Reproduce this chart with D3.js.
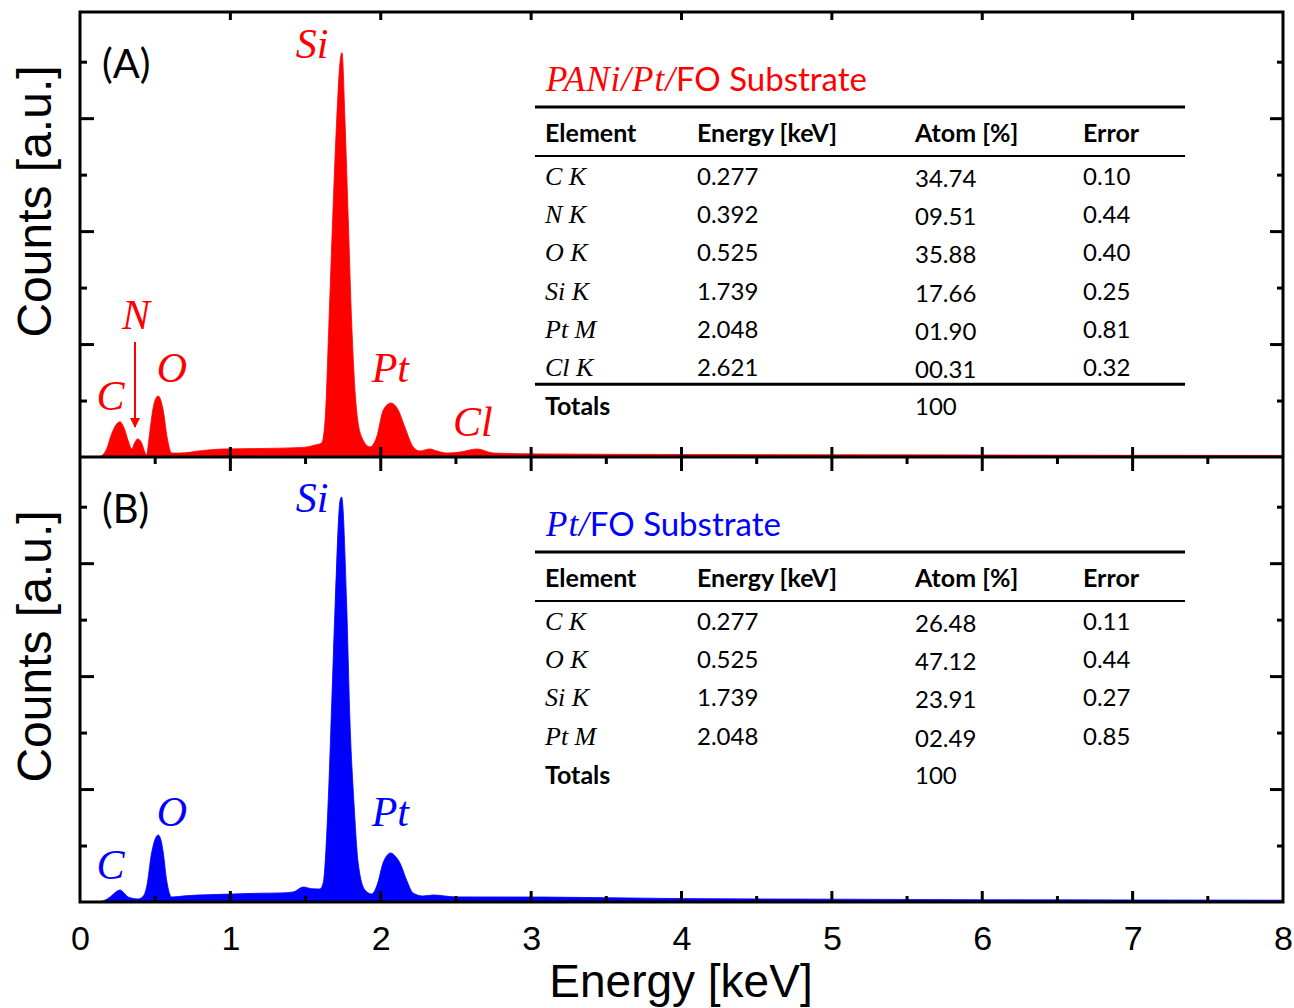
<!DOCTYPE html>
<html>
<head>
<meta charset="utf-8">
<script src="https://cdn.jsdelivr.net/npm/d3@7"></script>
<style>
  body { margin: 0; background: #fff; }
  svg { display: block; }
</style>
</head>
<body>
<div id="chart"></div>
<script>
// spectrum A (PANi/Pt/FO), energy in keV / counts in a.u.
const energyA = [0, 0.10, 0.133, 0.177, 0.21, 0.244, 0.266, 0.293, 0.321, 0.344, 0.365, 0.383, 0.41, 0.432, 0.443, 0.455, 0.465, 0.492, 0.52, 0.538, 0.554, 0.58, 0.61, 0.665, 0.8, 0.95, 1.2, 1.48, 1.56, 1.607, 1.63, 1.656, 1.68, 1.707, 1.733, 1.742, 1.762, 1.784, 1.806, 1.835, 1.873, 1.928, 1.973, 2.017, 2.068, 2.116, 2.16, 2.216, 2.26, 2.327, 2.38, 2.44, 2.527, 2.64, 2.75, 3.06, 4, 5, 6, 7, 8];
const countsA = [0, 0, 5, 71, 204, 293, 312, 257, 142, 71, 130, 160, 124, 40, 18, 120, 231, 470, 541, 500, 408, 169, 35, 35, 55, 71, 75, 85, 105, 124, 328, 1213, 2098, 2984, 3541, 3580, 2984, 2098, 1213, 478, 177, 89, 177, 416, 478, 416, 266, 89, 53, 71, 50, 35, 44, 71, 35, 27, 22, 20, 18, 15, 14];

// spectrum B (Pt/FO)
const energyB = [0, 0.10, 0.133, 0.2, 0.24, 0.266, 0.29, 0.32, 0.386, 0.42, 0.443, 0.476, 0.52, 0.54, 0.554, 0.576, 0.61, 0.7, 1.02, 1.2, 1.33, 1.418, 1.485, 1.54, 1.596, 1.617, 1.65, 1.674, 1.697, 1.73, 1.74, 1.773, 1.795, 1.822, 1.85, 1.895, 1.94, 1.98, 2.015, 2.067, 2.1, 2.128, 2.172, 2.215, 2.28, 2.35, 2.5, 3.06, 4, 5, 6, 7, 8];
const countsB = [0, 0, 3, 44, 90, 106, 85, 44, 27, 50, 133, 434, 593, 540, 434, 195, 44, 55, 71, 78, 80, 89, 133, 118, 115, 168, 876, 1762, 2647, 3560, 3586, 2647, 1611, 876, 345, 106, 71, 168, 345, 434, 400, 345, 195, 80, 53, 62, 45, 44, 30, 25, 20, 18, 16];

const xTicks = [0, 1, 2, 3, 4, 5, 6, 7, 8];
const xMinorTicks = [0.5, 1.5, 2.5, 3.5, 4.5, 5.5, 6.5, 7.5];
const yTicks = [1000, 2000, 3000];
const yMinorTicks = [500, 1500, 2500, 3500];

const tableHeader = ['Element', 'Energy [keV]', 'Atom [%]', 'Error'];
const elementsA = ['C K', 'N K', 'O K', 'Si K', 'Pt M', 'Cl K'];
const energiesA = ['0.277', '0.392', '0.525', '1.739', '2.048', '2.621'];
const atomsA = ['34.74', '09.51', '35.88', '17.66', '01.90', '00.31'];
const errorsA = ['0.10', '0.44', '0.40', '0.25', '0.81', '0.32'];
const elementsB = ['C K', 'O K', 'Si K', 'Pt M'];
const energiesB = ['0.277', '0.525', '1.739', '2.048'];
const atomsB = ['26.48', '47.12', '23.91', '02.49'];
const errorsB = ['0.11', '0.44', '0.27', '0.85'];

const W = 1294, H = 1008;
const left = 80, right = 1283;
const panels = [
  {top: 12, bottom: 457, color: '#ff0000', energy: energyA, counts: countsA, tag: '(A)',
   titleMath: 'PANi/Pt/', elements: elementsA, energies: energiesA, atoms: atomsA, errors: errorsA, totalRule: true,
   labels: [{t: 'Si', e: 1.435, c: 3533}, {t: 'C', e: 0.11, c: 420}, {t: 'N', e: 0.28, c: 1130},
            {t: 'O', e: 0.51, c: 660}, {t: 'Pt', e: 1.94, c: 660}, {t: 'Cl', e: 2.48, c: 190}]},
  {top: 457, bottom: 902, color: '#0000ff', energy: energyB, counts: countsB, tag: '(B)',
   titleMath: 'Pt/', elements: elementsB, energies: energiesB, atoms: atomsB, errors: errorsB, totalRule: false,
   labels: [{t: 'Si', e: 1.435, c: 3450}, {t: 'C', e: 0.11, c: 200}, {t: 'O', e: 0.51, c: 670},
            {t: 'Pt', e: 1.94, c: 670}]}
];

const sans = 'Lato, "Open Sans", sans-serif';
const arial = '"Liberation Sans", Arial, sans-serif';
const mathFont = '"Liberation Serif", "DejaVu Serif", serif';

const svg = d3.select('#chart').append('svg')
  .attr('width', W)
  .attr('height', H);

const x = d3.scaleLinear().domain([0, 8]).range([left, right]);

panels.forEach((p, i) => {
  const y = d3.scaleLinear().domain([0, 3940]).range([p.bottom, p.top]);
  const pts = p.energy.map((e, k) => [e, p.counts[k]]);

  const clipId = `clip_${i}`;
  svg.append('clipPath').attr('id', clipId)
    .append('rect')
    .attr('x', left).attr('y', p.top)
    .attr('width', right - left).attr('height', p.bottom - p.top);

  const area = d3.area()
    .x(d => x(d[0]))
    .y0(y(0))
    .y1(d => y(d[1]))
    .curve(d3.curveMonotoneX);

  svg.append('path')
    .datum(pts)
    .attr('clip-path', `url(#${clipId})`)
    .attr('d', area)
    .attr('fill', p.color)
    .attr('stroke', p.color)
    .attr('stroke-width', 0.8);

  // y ticks, inward on both sides
  const yAx = (axisFn, vals, size, xpos) => {
    const g = svg.append('g')
      .attr('transform', `translate(${xpos},0)`)
      .call(axisFn(y).tickValues(vals).tickSize(size).tickFormat(''));
    g.select('.domain').remove();
    g.selectAll('line').attr('stroke', '#000').attr('stroke-width', 3);
  };
  yAx(d3.axisLeft, yTicks, -14, left);
  yAx(d3.axisLeft, yMinorTicks, -7, left);
  yAx(d3.axisRight, yTicks, -13, right);
  yAx(d3.axisRight, yMinorTicks, -6, right);

  // panel tag
  svg.append('text')
    .attr('x', 102).attr('y', p.top + 66)
    .attr('font-family', sans).attr('font-size', 40)
    .text(p.tag);

  // y label
  svg.append('text')
    .attr('transform', `translate(51,${(p.top + p.bottom) / 2 - 33}) rotate(-90)`)
    .attr('text-anchor', 'middle')
    .attr('font-family', arial).attr('font-size', 48)
    .text('Counts [a.u.]');

  // peak labels
  p.labels.forEach(l => {
    svg.append('text')
      .attr('x', x(l.e)).attr('y', y(l.c))
      .attr('font-family', mathFont).attr('font-style', 'italic')
      .attr('font-size', 42)
      .attr('fill', p.color)
      .text(l.t);
  });

  // table
  const tx = 546, colX = [545, 697, 915, 1083];
  const tTop = p.top;
  const title = svg.append('text')
    .attr('x', tx).attr('y', tTop + 79)
    .attr('fill', p.color).attr('font-size', 33);
  title.append('tspan').attr('font-family', mathFont).attr('font-style', 'italic')
    .attr('font-size', 35).attr('letter-spacing', 1).text(p.titleMath);
  title.append('tspan').attr('font-family', sans).text('FO Substrate');

  const rule = (yy, sw) => svg.append('line')
    .attr('x1', 535).attr('x2', 1185).attr('y1', yy).attr('y2', yy)
    .attr('stroke', '#000').attr('stroke-width', sw);
  rule(tTop + 95, 3);
  rule(tTop + 144, 2);

  tableHeader.forEach((h, k) => {
    svg.append('text')
      .attr('x', colX[k]).attr('y', tTop + 130)
      .attr('font-family', sans).attr('font-weight', 'bold').attr('font-size', 25)
      .text(h);
  });

  const rowY = k => tTop + 173 + k * 38.2;
  p.elements.forEach((el, k) => {
    svg.append('text').attr('x', colX[0]).attr('y', rowY(k))
      .attr('font-family', mathFont).attr('font-style', 'italic').attr('font-size', 26)
      .text(el);
    [p.energies[k], p.atoms[k], p.errors[k]].forEach((v, c) => {
      svg.append('text').attr('x', colX[c + 1]).attr('y', rowY(k) + (c === 1 ? 2 : 0))
        .attr('font-family', sans).attr('font-size', 24)
        .text(v);
    });
  });
  const n = p.elements.length;
  if (p.totalRule) rule(rowY(n) - 30, 3);
  svg.append('text').attr('x', colX[0]).attr('y', rowY(n) + 1)
    .attr('font-family', sans).attr('font-weight', 'bold').attr('font-size', 25)
    .text('Totals');
  svg.append('text').attr('x', colX[2]).attr('y', rowY(n) + 1)
    .attr('font-family', sans).attr('font-size', 24)
    .text('100');
});

// N arrow in panel A
svg.append('defs').append('marker')
  .attr('id', 'arrowHead')
  .attr('viewBox', '0 0 10 10')
  .attr('refX', 9).attr('refY', 5)
  .attr('markerWidth', 5).attr('markerHeight', 5)
  .attr('orient', 'auto')
  .append('path').attr('d', 'M0,0 L10,5 L0,10 Z').attr('fill', '#ff0000');
svg.append('line')
  .attr('x1', 135).attr('x2', 135).attr('y1', 342).attr('y2', 427)
  .attr('stroke', '#ff0000').attr('stroke-width', 2)
  .attr('marker-end', 'url(#arrowHead)');

// x ticks
const xTickLines = (vals, y0, y1) => {
  svg.append('g').selectAll('line').data(vals).join('line')
    .attr('x1', d => x(d)).attr('x2', d => x(d))
    .attr('y1', y0).attr('y2', y1)
    .attr('stroke', '#000').attr('stroke-width', 3);
};
xTickLines(xTicks.slice(1, -1), 12, 20);      // top of A
xTickLines(xTicks.slice(1, -1), 447, 471);    // shared axis, both sides
xTickLines(xMinorTicks, 457, 464);
xTickLines(xTicks.slice(1, -1), 891, 902);    // bottom of B
xTickLines(xMinorTicks, 896, 902);

// frame
svg.append('rect')
  .attr('x', left).attr('y', 12)
  .attr('width', right - left).attr('height', 890)
  .attr('fill', 'none').attr('stroke', '#000').attr('stroke-width', 3);
svg.append('line')
  .attr('x1', left).attr('x2', right).attr('y1', 457).attr('y2', 457)
  .attr('stroke', '#000').attr('stroke-width', 3);

// x axis labels
const xAxis = svg.append('g')
  .attr('transform', 'translate(0,902)')
  .call(d3.axisBottom(x).tickValues(xTicks).tickSize(0).tickPadding(24));
xAxis.select('.domain').remove();
xAxis.selectAll('text')
  .attr('font-family', arial).attr('font-size', 34).attr('fill', '#000');

svg.append('text')
  .attr('x', 681).attr('y', 997)
  .attr('text-anchor', 'middle')
  .attr('font-family', arial).attr('font-size', 46)
  .text('Energy [keV]');
</script>
</body>
</html>
